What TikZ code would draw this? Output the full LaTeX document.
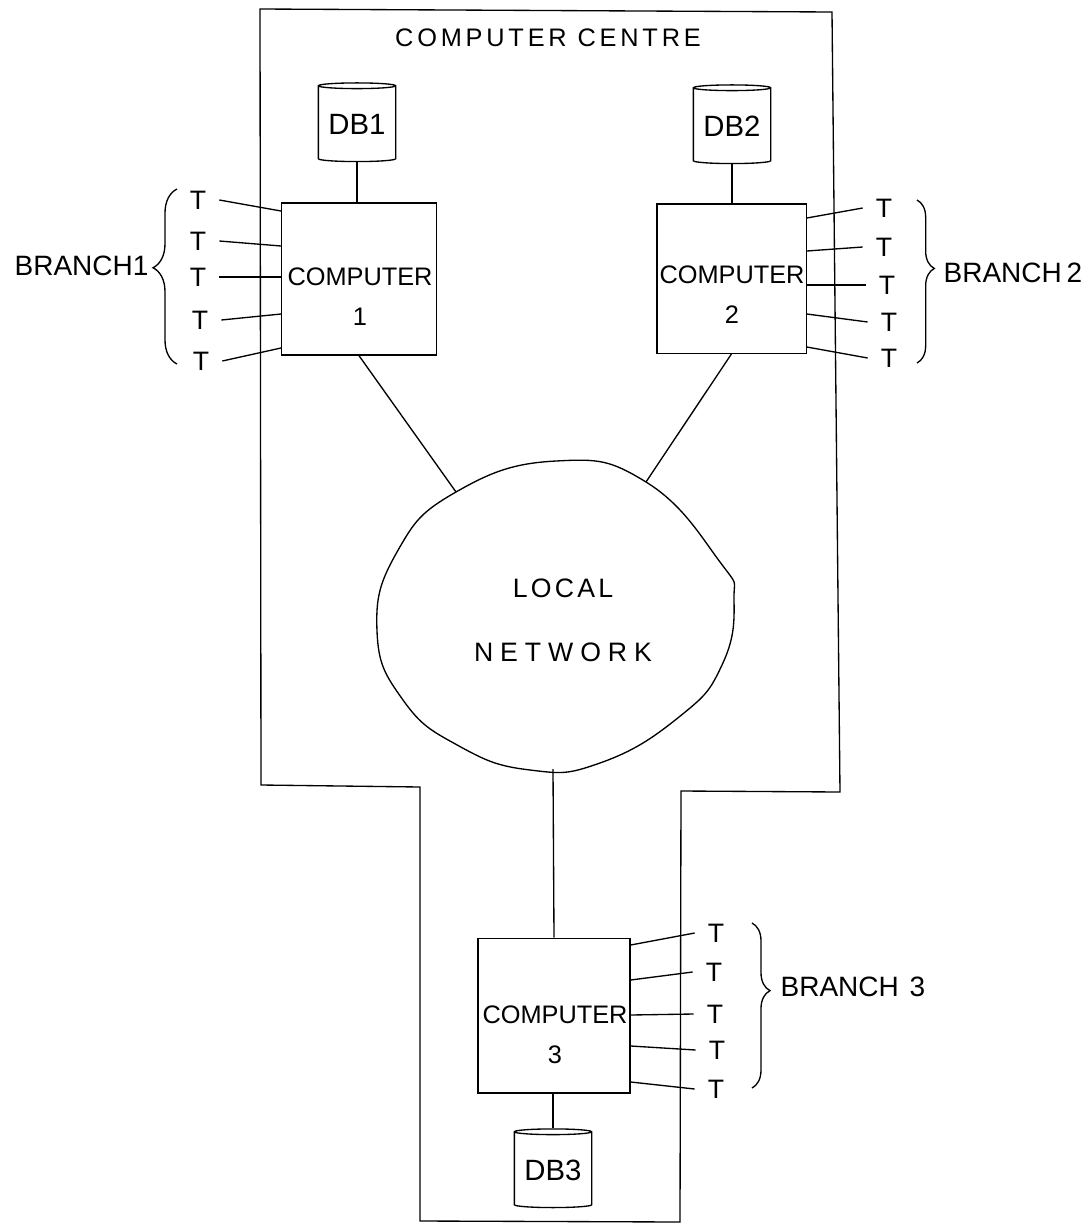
\documentclass[tikz,border=0pt]{standalone}
\usepackage{fontspec}
\setmainfont{Liberation Sans}
\usetikzlibrary{shapes.geometric, decorations.pathreplacing}

\begin{document}
\begin{tikzpicture}[
        x=0.75pt, y=-0.75pt, line width=1pt,
        comp/.style={draw, minimum width=114pt, minimum height=114pt},
        lbl/.style={align=center, inner sep=0pt, font=\fontsize{19}{30}\selectfont},
        db/.style={draw, cylinder, shape border rotate=90, shape aspect=0.1, minimum width=58pt, minimum height=59pt, inner sep=0pt, font=\fontsize{22}{24}\selectfont},
        term/.style={inner sep=0pt, minimum width=31pt, font=\fontsize{20}{24}\selectfont},
        branch/.style={inner sep=0pt, anchor=west, font=\fontsize{21}{24}\selectfont},
        brc/.style={decorate, decoration={brace, amplitude=#1}}
    ]
        \useasboundingbox (0,0) rectangle (1090,1225);
        % centre outline
        \draw (260,9) -- (832,12) -- (840,792) -- (681,791) -- (680,1222) -- (420,1221) -- (420,787) -- (261,785) -- cycle;
        \node[lbl, font=\fontsize{19}{24}\selectfont\addfontfeature{LetterSpace=15}] (title) at (548,38) {COMPUTER CENTRE};

        % network
        \draw plot[smooth cycle, tension=0.8] coordinates {(556,461) (646,482) (720,562) (734,600) (722,665) (679,717) (600,763) (530,770) (459,746) (403,700) (377,631) (397,552) (456,492)};
        \coordinate (netl) at (456,492);
        \coordinate (netr) at (646,482);
        \coordinate (netb) at (553,769);
        \node[lbl, font=\fontsize{20}{24}\selectfont\addfontfeature{LetterSpace=12}] (local) at (563,588) {LOCAL};
        \node[lbl, font=\fontsize{20}{24}\selectfont\addfontfeature{LetterSpace=26}] (network) at (563,652) {NETWORK};

        % computers
        \node[comp, minimum width=116pt] (c1) at (359,279) {};
        \node[comp, minimum width=112pt, minimum height=112pt] (c2) at (731.5,278.5) {};
        \node[comp, minimum height=116pt] (c3) at (554,1015.5) {};
        \node[lbl] (c1t) at (360,297) {COMPUTER\\1};
        \node[lbl] (c2t) at (732,295) {COMPUTER\\2};
        \node[lbl] (c3t) at (555,1035) {COMPUTER\\3};

        % databases
        \node[db] (db1) at (357,124) {DB1};
        \node[db] (db2) at (732,126) {DB2};
        \node[db] (db3) at (553,1170) {DB3};
        \draw (db1.south) -- (c1.north -| db1.south);
        \draw (db2.south) -- (c2.north -| db2.south);
        \draw (db3.north) -- (c3.south -| db3.north);

        \draw (c1.south) -- (netl);
        \draw (c2.south) -- (netr);
        \draw (c3.north) -- (netb);

        % terminals
        \foreach \i/\tx/\ty/\by in {1/198/200/211, 2/198/241/246, 3/198/277/277, 4/200/320/314, 5/201/361/348} {
            \node[term] (ta\i) at (\tx,\ty) {T};
            \draw (ta\i.east) -- (c1.west |- 0,\by);
        }
        \foreach \i/\tx/\ty/\by in {1/884/208/218, 2/884/247/251, 3/887/285/285, 4/889/322/314, 5/889/358/347} {
            \node[term] (tb\i) at (\tx,\ty) {T};
            \draw (tb\i.west) -- (c2.east |- 0,\by);
        }
        \foreach \i/\tx/\ty/\by in {1/716/933/945, 2/714/972/980, 3/715/1014/1015, 4/717/1050/1046, 5/716/1089/1082} {
            \node[term] (tc\i) at (\tx,\ty) {T};
            \draw (tc\i.west) -- (c3.east |- 0,\by);
        }

        % branches
        \coordinate (b1a) at (177,364);
        \coordinate (b1b) at (177,189);
        \coordinate (b2a) at (917,200);
        \coordinate (b2b) at (917,363);
        \coordinate (b3a) at (752,923);
        \coordinate (b3b) at (752,1088);
        \draw[brc=18pt, decoration={aspect=0.55}] (b1a) -- (b1b);
        \draw[brc=13pt, decoration={aspect=0.42}] (b2a) -- (b2b);
        \draw[brc=13.5pt, decoration={aspect=0.41}] (b3a) -- (b3b);
        \node[branch] (br1) at (14,266) {BRANCH1};
        \node[branch] (br2) at (943,273) {BRANCH\,2};
        \node[branch] (br3) at (780,987) {BRANCH\hspace{8pt}3};
    \end{tikzpicture}
\end{document}
